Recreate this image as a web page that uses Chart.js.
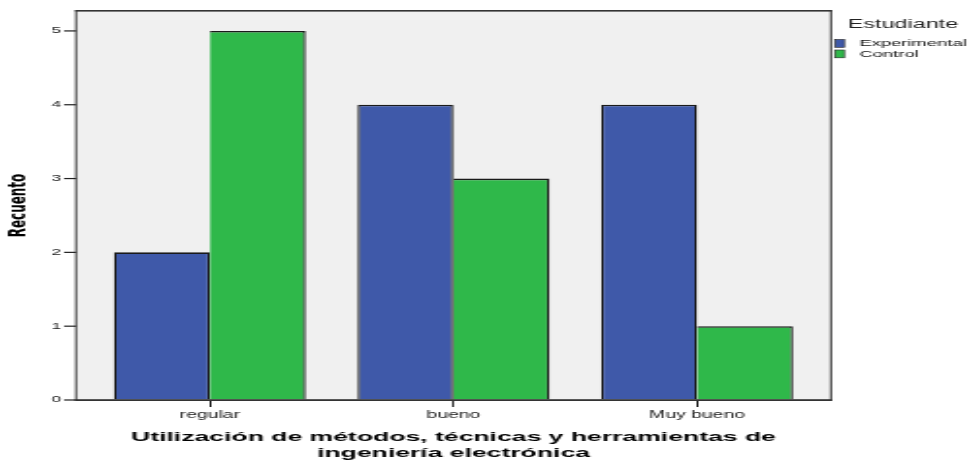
<!DOCTYPE html>
<html>
<head>
<meta charset="utf-8">
<script src="https://cdn.jsdelivr.net/npm/chart.js@4/dist/chart.umd.min.js"></script>
<style>
  body { margin: 0; background: #fff; overflow: hidden; }
  /* the original picture is stretched sideways, so the canvas is too */
  #chart { transform: scaleX(1.94); transform-origin: 0 0; }
</style>
</head>
<body>
<canvas id="chart" width="500" height="461"></canvas>
<script>
// chart data
const categories = ["regular", "bueno", "Muy bueno"];
const seriesNames = ["Experimental", "Control"];
const experimental = [2, 4, 4];
const control = [5, 3, 1];
const yTicks = [0, 1, 2, 3, 4, 5];
const legendTitle = "Estudiante";
const yTitle = "Recuento";
const xTitle = ["Utilización de métodos, técnicas y herramientas de", "ingeniería electrónica"];

const FRAME_EXT = 6.2; // plot frame goes a bit past the category slots

// background, frame and y tick marks around the plot
const framePlugin = {
  id: "frame",
  beforeDatasetsDraw(chart) {
    const a = chart.chartArea;
    const ctx = chart.ctx;
    ctx.save();
    ctx.fillStyle = "#f0f0f0";
    ctx.fillRect(a.left - FRAME_EXT, a.top, a.right - a.left + 2 * FRAME_EXT, a.bottom - a.top);
    ctx.restore();
  },
  afterDatasetsDraw(chart) {
    const a = chart.chartArea;
    const ctx = chart.ctx;
    const l = a.left - FRAME_EXT;
    const r = a.right + FRAME_EXT;
    ctx.save();
    ctx.fillStyle = "#333";
    ctx.fillRect(l - 0.5, a.top - 1, 1, a.bottom - a.top + 2);
    ctx.fillRect(r - 0.5, a.top - 1, 1, a.bottom - a.top + 2);
    ctx.fillRect(l - 0.5, a.top - 1, r - l + 1, 1.6);
    ctx.fillRect(l - 0.5, a.bottom - 0.8, r - l + 1, 1.8);
    // y tick marks
    const y = chart.scales.y;
    ctx.fillStyle = "#222";
    yTicks.forEach(function (v) {
      const py = y.getPixelForValue(v);
      ctx.fillRect(l - FRAME_EXT, py - 0.6, FRAME_EXT, 1.2);
    });
    ctx.restore();
  },
};

// legend on the right side
const legendPlugin = {
  id: "sideLegend",
  afterDraw(chart) {
    const ctx = chart.ctx;
    ctx.save();
    ctx.textBaseline = "middle";
    ctx.textAlign = "left";
    ctx.fillStyle = "#222";
    ctx.font = '12px "Liberation Sans"';
    ctx.fillText(legendTitle, 437.1, 24.5);
    ctx.font = '9.5px "Liberation Sans"';
    chart.data.datasets.forEach(function (ds, i) {
      const top = 39.5 + i * 10.5;
      ctx.fillStyle = ds.backgroundColor;
      ctx.fillRect(430.4, top, 4.8, 7.8);
      ctx.strokeStyle = "#222";
      ctx.lineWidth = 0.6;
      ctx.strokeRect(430.4, top, 4.8, 7.8);
      ctx.fillStyle = "#111";
      ctx.fillText(ds.label, 442.9, top + 4);
    });
    ctx.restore();
  },
};

const ctx = document.getElementById("chart");

new Chart(ctx, {
  type: "bar",
  data: {
    labels: categories,
    datasets: [
      {
        label: seriesNames[0],
        data: experimental,
        backgroundColor: "#3f59a9",
        borderColor: "#1a1a1a",
        borderWidth: { left: 1.3, right: 1.3, top: 1.6, bottom: 0 },
      },
      {
        label: seriesNames[1],
        data: control,
        backgroundColor: "#2fb84a",
        borderColor: "#1a1a1a",
        borderWidth: { left: 0, right: 1.3, top: 1.6, bottom: 0 },
      },
    ],
  },
  options: {
    responsive: false,
    animation: false,
    events: [],
    layout: { padding: { top: 11, right: 77.9, left: 0, bottom: 0 } },
    datasets: {
      bar: { categoryPercentage: 0.788, barPercentage: 1, inflateAmount: 0 },
    },
    plugins: {
      legend: { display: false },
      tooltip: { enabled: false },
    },
    scales: {
      x: {
        afterFit: function (scale) {
          scale.height = 61;
        },
        border: { display: false },
        grid: {
          offset: false,
          drawOnChartArea: false,
          drawTicks: true,
          tickLength: 7,
          color: "#222",
          lineWidth: 1,
        },
        ticks: {
          padding: 2,
          color: "#222",
          font: { family: "Liberation Sans", size: 10 },
        },
        title: {
          display: true,
          text: xTitle,
          color: "#000",
          padding: { top: 0, bottom: 0 },
          font: { family: "Liberation Sans", weight: "bold", size: 13.7, lineHeight: "16px" },
        },
      },
      y: {
        min: 0,
        max: 5.27,
        afterFit: function (scale) {
          scale.width = 45.4;
        },
        border: { display: false },
        // invisible tick marks only push the labels away from the plot
        grid: {
          drawOnChartArea: false,
          drawTicks: true,
          tickLength: 12,
          color: "rgba(0,0,0,0)",
        },
        ticks: {
          stepSize: 1,
          includeBounds: false,
          padding: 2,
          color: "#222",
          font: { family: "Liberation Sans", size: 9 },
        },
        title: {
          display: true,
          text: yTitle,
          color: "#000",
          padding: { top: 3, bottom: 0 },
          font: { family: "DejaVu Sans", weight: "bold", size: 12 },
        },
      },
    },
  },
  plugins: [framePlugin, legendPlugin],
});
</script>
</body>
</html>
